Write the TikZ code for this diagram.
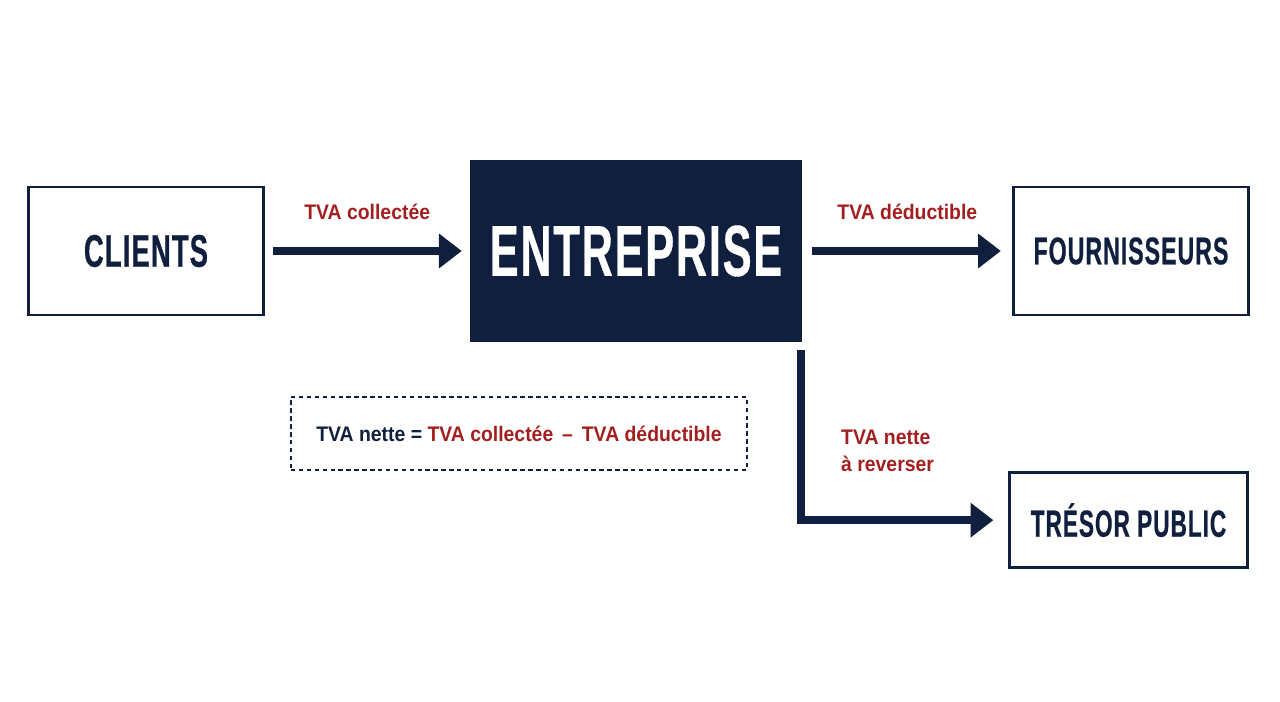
\documentclass[tikz,border=0pt]{standalone}
\usepackage{fontspec}
\usepackage{xcolor}
\usepackage{tikz}
\usetikzlibrary{arrows.meta,positioning,calc}

\setmainfont{Liberation Sans}
\newfontfamily\titlefont[FakeStretch=0.6,FakeBold=0.5,LetterSpace=2.5]{Liberation Sans}
\newfontfamily\labfont[FakeStretch=0.92]{Liberation Sans}

\definecolor{navy}{HTML}{0F1F3D}
\definecolor{tvared}{HTML}{A31F1F}

\begin{document}
\begin{tikzpicture}[
    x=0.02cm, y=-0.02cm,
    node distance=3.1cm and 4.1cm,
    box/.style={rectangle, draw=navy, line width=1.4pt, fill=white, align=center, minimum width=4.7cm, minimum height=2.57cm, text=navy},
    mainbox/.style={rectangle, fill=navy, align=center, minimum width=6.64cm, minimum height=3.64cm, text=white, font=\titlefont\bfseries\fontsize{41}{45}\selectfont},
    note/.style={rectangle, draw=navy, line width=1pt, dash pattern=on 2.5pt off 2pt, minimum width=9.12cm, minimum height=1.46cm, font=\labfont\bfseries\fontsize{12}{15}\selectfont, text=navy},
    lbl/.style={text=tvared, font=\labfont\bfseries\fontsize{12}{15.3}\selectfont},
    arrow/.style={-{Triangle[length=13pt, width=19pt]}, line width=4.5pt, draw=navy}
]
    \useasboundingbox (0,0) rectangle (1280,702);

    \node [mainbox] (entreprise) at (636,251) {ENTREPRISE};
    \node [box, left=of entreprise, font=\titlefont\bfseries\fontsize{26}{30}\selectfont] (clients) {CLIENTS};
    \node [box, right=4.2cm of entreprise, font=\titlefont\bfseries\fontsize{22}{26}\selectfont] (fournisseurs) {FOURNISSEURS};
    \node [box, below=of fournisseurs, minimum width=4.76cm, minimum height=1.9cm, xshift=-0.05cm, font=\titlefont\bfseries\fontsize{21.5}{25}\selectfont] (tresor) {TRÉSOR PUBLIC};

    \node [note] (formule) at (519,433.5) {TVA nette = \textcolor{tvared}{TVA collectée \,–\, TVA déductible}};

    % flux de TVA
    \draw [arrow, shorten <=4.5pt, shorten >=4.5pt] (clients) -- node [lbl, yshift=0.78cm] {TVA collectée} (entreprise);
    \draw [arrow, shorten <=5.5pt, shorten >=6.5pt] (entreprise) -- node [lbl, yshift=0.78cm] {TVA déductible} (fournisseurs);

    \coordinate (depart) at ([xshift=-0.02cm, yshift=-0.16cm]entreprise.south east);
    \draw [arrow, shorten >=8.5pt] (depart) |- (tresor);
    \node [lbl, anchor=west, align=left] (reverser) at (835,451) {TVA nette\\à reverser};
\end{tikzpicture}
\end{document}
